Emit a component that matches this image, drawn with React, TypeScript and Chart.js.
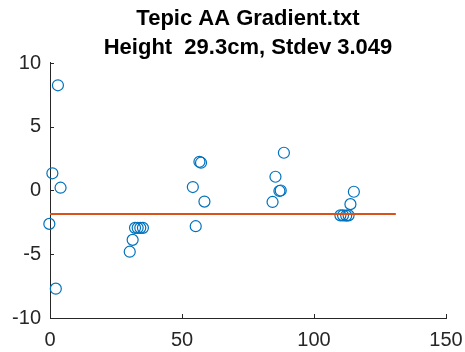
import React, { useEffect, useRef } from "react";
import { Chart, registerables } from "chart.js";

Chart.register(...registerables);

const titleLines = ["Tepic AA Gradient.txt", "Height  29.3cm, Stdev 3.049"];
const xValues = [3.0, 0.9, 4.0, -0.25, 2.2, 31.3, 30.2, 32.2, 33.2, 34.2, 35.2, 56.6, 57.2, 54.1, 58.5, 55.2, 88.6, 85.4, 86.9, 87.4, 84.3, 115.1, 113.8, 110.0, 111.0, 112.2, 113.1];
const yValues = [8.25, 1.35, 0.22, -2.62, -7.7, -3.87, -4.8, -2.93, -2.93, -2.93, -2.93, 2.25, 2.18, 0.27, -0.87, -2.8, 2.96, 1.08, -0.04, 0.0, -0.9, -0.1, -1.07, -1.95, -1.95, -1.97, -1.95];
const lineX = [0, 131];
const lineY = [-1.84, -1.84];
const xTicks = [0, 50, 100, 150];
const yTicks = [-10, -5, 0, 5, 10];

const AXIS_COLOR = "#262626";
const FONT = "'Liberation Sans', Arial, Helvetica, sans-serif";

const inwardTicks = {
  id: "inwardTicks",
  afterDraw(chart: any) {
    const ctx = chart.ctx;
    const { left, bottom } = chart.chartArea;
    const xs = chart.scales.x;
    const ys = chart.scales.y;
    const len = 4;
    ctx.save();
    ctx.strokeStyle = AXIS_COLOR;
    ctx.lineWidth = 1;
    ctx.beginPath();
    xTicks.forEach((v) => {
      const p = Math.round(xs.getPixelForValue(v)) + 0.5;
      ctx.moveTo(p, bottom);
      ctx.lineTo(p, bottom - len);
    });
    yTicks.forEach((v) => {
      const p = Math.round(ys.getPixelForValue(v)) + 0.5;
      ctx.moveTo(left, p);
      ctx.lineTo(left + len, p);
    });
    ctx.stroke();
    ctx.restore();
  },
};

export default function App() {
  const ref = useRef<HTMLCanvasElement | null>(null);
  useEffect(() => {
    if (!ref.current) return;
    const chart = new Chart(ref.current, {
      type: "scatter",
      data: {
        datasets: [
          {
            type: "scatter",
            data: xValues.map((x, i) => ({ x, y: yValues[i] })),
            pointStyle: "circle",
            pointRadius: 5.5,
            pointBorderWidth: 1.2,
            borderColor: "#0072BD",
            backgroundColor: "rgba(0,0,0,0)",
            clip: false,
            order: 1,
          } as any,
          {
            type: "line",
            data: lineX.map((x, i) => ({ x, y: lineY[i] })),
            borderColor: "#D95319",
            borderWidth: 2,
            pointRadius: 0,
            fill: false,
            order: 0,
          } as any,
        ],
      },
      options: {
        responsive: false,
        animation: false,
        layout: { padding: { left: 0, right: 19, top: 0, bottom: 0 } },
        plugins: {
          legend: { display: false },
          tooltip: { enabled: false },
          title: {
            display: true,
            text: titleLines,
            color: "#000000",
            fullSize: false,
            font: { family: FONT, size: 22, weight: "bold", lineHeight: 1.318 },
            padding: { top: 4, bottom: 1 },
          } as any,
        },
        scales: {
          x: {
            type: "linear",
            min: 0,
            max: 150,
            afterFit: (s: any) => {
              s.height = 34;
              s.paddingLeft = 0;
              s.paddingRight = 0;
            },
            afterBuildTicks: (s: any) => {
              s.ticks = xTicks.map((v) => ({ value: v }));
            },
            grid: { display: true, drawOnChartArea: false, drawTicks: false },
            border: { display: true, color: AXIS_COLOR, width: 1 },
            ticks: {
              color: AXIS_COLOR,
              padding: 10,
              maxRotation: 0,
              font: { family: FONT, size: 20 },
            },
          },
          y: {
            type: "linear",
            min: -10,
            max: 10,
            afterFit: (s: any) => {
              s.width = 50;
              s.paddingTop = 0;
              s.paddingBottom = 0;
            },
            afterBuildTicks: (s: any) => {
              s.ticks = yTicks.map((v) => ({ value: v }));
            },
            grid: { display: true, drawOnChartArea: false, drawTicks: false },
            border: { display: true, color: AXIS_COLOR, width: 1 },
            ticks: {
              color: AXIS_COLOR,
              padding: 9,
              font: { family: FONT, size: 20 },
            },
          },
        },
      },
      plugins: [inwardTicks],
    });
    return () => chart.destroy();
  }, []);
  return (
    <div style={{ position: "absolute", left: 0, top: 0, width: 465, height: 352, background: "#ffffff" }}>
      <canvas ref={ref} width={465} height={352} style={{ display: "block" }} />
    </div>
  );
}
